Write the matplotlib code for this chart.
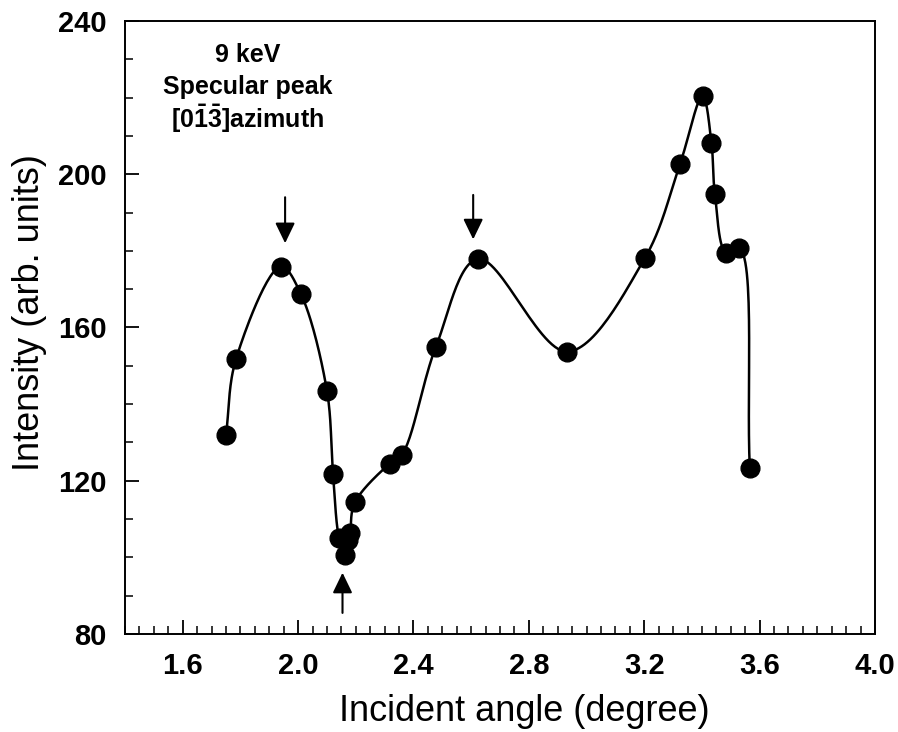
import matplotlib
matplotlib.use("Agg")
import matplotlib.pyplot as plt
import numpy as np
from matplotlib.ticker import MultipleLocator

plt.rcParams['font.family'] = ['Liberation Sans', 'DejaVu Sans']
plt.rcParams['mathtext.fontset'] = 'custom'
plt.rcParams['mathtext.rm'] = 'Liberation Sans:bold'
plt.rcParams['mathtext.bf'] = 'Liberation Sans:bold'

# measured specular intensity vs incident angle
angle = [1.750, 1.785, 1.941, 2.010, 2.100, 2.121, 2.142, 2.163, 2.172, 2.180,
         2.197, 2.318, 2.359, 2.478, 2.625, 2.933, 3.202, 3.324, 3.402,
         3.433, 3.445, 3.485, 3.529, 3.566]
intensity = [131.9, 151.8, 175.9, 168.7, 143.5, 121.8, 105.0, 100.6, 104.5, 106.4,
             114.4, 124.5, 126.7, 155.0, 177.9, 153.7, 178.1, 202.7, 220.4,
             208.1, 194.8, 179.4, 180.7, 123.2]

# arrows marking peaks/dip: (x, tail y, head y)
arrows = [(1.955, 194.0, 182.0), (2.607, 194.6, 183.0), (2.154, 85.5, 96.0)]


def smooth_curve(x, y, n=30):
    # centripetal Catmull-Rom through the points
    p = np.column_stack([x, y]).astype(float)
    sc = np.array([1.0, 1.0 / 60.0])
    q = p * sc
    q = np.vstack([2 * q[0] - q[1], q, 2 * q[-1] - q[-2]])
    out = []
    for i in range(1, len(q) - 2):
        p0, p1, p2, p3 = q[i - 1], q[i], q[i + 1], q[i + 2]
        t0 = 0.0
        t1 = t0 + np.linalg.norm(p1 - p0) ** 0.5 + 1e-9
        t2 = t1 + np.linalg.norm(p2 - p1) ** 0.5 + 1e-9
        t3 = t2 + np.linalg.norm(p3 - p2) ** 0.5 + 1e-9
        t = np.linspace(t1, t2, n)[:, None]
        a1 = (t1 - t) / (t1 - t0) * p0 + (t - t0) / (t1 - t0) * p1
        a2 = (t2 - t) / (t2 - t1) * p1 + (t - t1) / (t2 - t1) * p2
        a3 = (t3 - t) / (t3 - t2) * p2 + (t - t2) / (t3 - t2) * p3
        b1 = (t2 - t) / (t2 - t0) * a1 + (t - t0) / (t2 - t0) * a2
        b2 = (t3 - t) / (t3 - t1) * a2 + (t - t1) / (t3 - t1) * a3
        c = (t2 - t) / (t2 - t1) * b1 + (t - t1) / (t2 - t1) * b2
        out.append(c)
    c = np.vstack(out) / sc
    return c[:, 0], c[:, 1]


fig = plt.figure(figsize=(8.98, 7.32), dpi=100)
ax = fig.add_axes([0.1392, 0.1339, 0.8352, 0.8374])

cx, cy = smooth_curve(angle, intensity)
ax.plot(cx, cy, color='k', lw=1.8, zorder=2)
ax.plot(angle, intensity, 'o', color='k', ms=13.5, zorder=3)

for xa, y0, y1 in arrows:
    ax.annotate('', xy=(xa, y1), xytext=(xa, y0),
                arrowprops=dict(arrowstyle='-|>,head_length=0.62,head_width=0.3',
                                color='k', lw=1.5,
                                mutation_scale=20, shrinkA=0, shrinkB=0))

ax.set_xlim(1.4, 4.0)
ax.set_ylim(80, 240)
ax.xaxis.set_minor_locator(MultipleLocator(0.05))
ax.yaxis.set_major_locator(MultipleLocator(40))
ax.yaxis.set_minor_locator(MultipleLocator(10))
ax.set_xticks(np.arange(1.6, 4.01, 0.4))
ax.set_xticklabels(['1.6', '2.0', '2.4', '2.8', '3.2', '3.6', '4.0'])
ax.tick_params(which='major', direction='in', length=10, width=1.3,
               labelsize=21, pad=13)
ax.tick_params(which='minor', direction='in', length=6, width=1.1)
for lab in ax.get_xticklabels() + ax.get_yticklabels():
    lab.set_fontweight('bold')
for s in ax.spines.values():
    s.set_linewidth(1.4)

ax.set_xlabel('Incident angle (degree)', fontsize=26)
ax.set_ylabel('Intensity (arb. units)', fontsize=26)
ax.xaxis.set_label_coords(0.532, -0.098)
ax.yaxis.set_label_coords(-0.104, 0.525)

ax.text(1.826, 231.2, '9 keV', ha='center', va='center', fontsize=18,
        fontweight='bold')
ax.text(1.826, 222.8, 'Specular peak', ha='center', va='center', fontsize=18,
        fontweight='bold')
ax.text(1.826, 214.4, r'[0$\bar{1}\bar{3}$]azimuth', ha='center', va='center',
        fontsize=18, fontweight='bold')

fig.savefig('out.png', dpi=100)
